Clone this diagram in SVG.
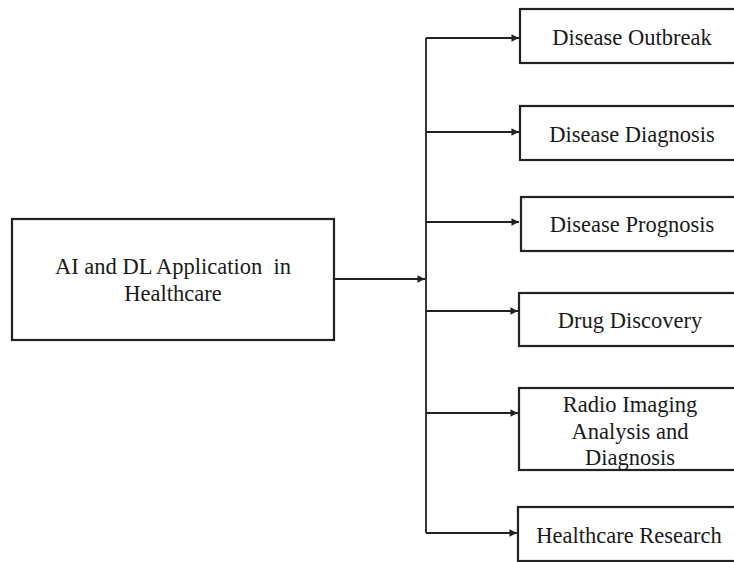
<svg xmlns="http://www.w3.org/2000/svg" width="734" height="562" viewBox="0 0 734 562">
  <style>
    .box { fill: #ffffff; stroke: #222222; stroke-width: 2.2; }
    .wire { fill: none; stroke: #222222; stroke-width: 1.8; }
    .label { font-family: "Liberation Serif", "Times New Roman", serif; font-size: 22.5px; fill: #1a1a1a; text-anchor: middle; white-space: pre; }
  </style>
  <defs>
    <marker id="arrow" viewBox="0 0 10 10" refX="10" refY="5" markerWidth="4.2" markerHeight="4.2" markerUnits="strokeWidth" orient="auto">
      <path d="M0,0 L10,5 L0,10 z" fill="#222222"/>
    </marker>
  </defs>
  <rect width="734" height="562" fill="#ffffff"/>

  <!-- connectors -->
  <g id="connectors">
    <path class="wire" d="M334,279 L425,279" marker-end="url(#arrow)"/>
    <path class="wire" d="M426,38 L426,533"/>
    <path class="wire" d="M426,38 L519,38" marker-end="url(#arrow)"/>
    <path class="wire" d="M426,132 L519,132" marker-end="url(#arrow)"/>
    <path class="wire" d="M426,222 L519,222" marker-end="url(#arrow)"/>
    <path class="wire" d="M426,311 L518,311" marker-end="url(#arrow)"/>
    <path class="wire" d="M426,413 L518,413" marker-end="url(#arrow)"/>
    <path class="wire" d="M426,533 L517,533" marker-end="url(#arrow)"/>
  </g>

  <!-- root node -->
  <g id="root">
    <rect class="box" x="12" y="219" width="322" height="121"/>
    <text class="label" x="173" y="274" xml:space="preserve">AI and DL Application  in</text>
    <text class="label" x="173" y="301">Healthcare</text>
  </g>

  <!-- application nodes -->
  <g id="outbreak">
    <rect class="box" x="520" y="9" width="230" height="54"/>
    <text class="label" x="632" y="45">Disease Outbreak</text>
  </g>
  <g id="diagnosis">
    <rect class="box" x="520" y="106" width="230" height="54"/>
    <text class="label" x="632" y="142">Disease Diagnosis</text>
  </g>
  <g id="prognosis">
    <rect class="box" x="521" y="197" width="230" height="54"/>
    <text class="label" x="632" y="232">Disease Prognosis</text>
  </g>
  <g id="drug">
    <rect class="box" x="519" y="293" width="230" height="53"/>
    <text class="label" x="630" y="328">Drug Discovery</text>
  </g>
  <g id="radio">
    <rect class="box" x="519" y="388" width="230" height="82"/>
    <text class="label" x="630" y="412">Radio Imaging</text>
    <text class="label" x="630" y="439">Analysis and</text>
    <text class="label" x="630" y="465">Diagnosis</text>
  </g>
  <g id="research">
    <rect class="box" x="518" y="507" width="230" height="54"/>
    <text class="label" x="629" y="543">Healthcare Research</text>
  </g>
</svg>
